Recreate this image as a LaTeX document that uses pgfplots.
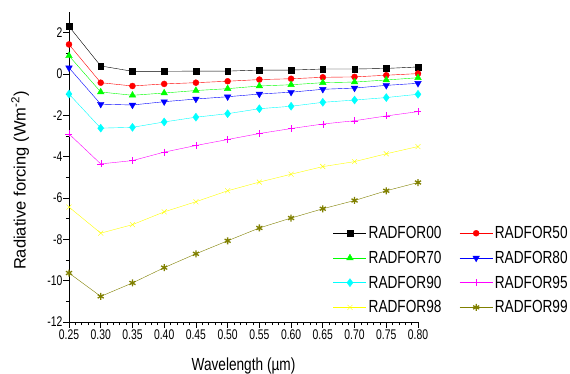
\documentclass[border=0pt]{standalone}
\usepackage{fontspec}
\setmainfont{Liberation Sans}
\newfontfamily\nfont{Liberation Sans}[FakeStretch=0.78]
\newfontfamily\tfont{Liberation Sans}[FakeStretch=0.74]
\usepackage{pgfplots}
\pgfplotsset{compat=1.18}
\definecolor{olv}{RGB}{128,128,0}
\definecolor{grn}{RGB}{0,255,0}
\definecolor{ylw}{RGB}{255,255,0}
\definecolor{cyn}{RGB}{0,255,255}
\definecolor{mgt}{RGB}{255,0,255}
\definecolor{blu}{RGB}{0,0,255}
\definecolor{rd}{RGB}{255,0,0}
\begin{document}
\begin{tikzpicture}
\useasboundingbox (-69pt,-51pt) rectangle (501pt,322pt);
\begin{axis}[
  at={(0pt,0pt)}, anchor=south west,
  scale only axis, width=349pt, height=310pt,
  xmin=0.25, xmax=0.80, ymin=-12, ymax=3,
  axis x line*=bottom, axis y line*=left,
  axis line style={line width=0.8pt},
  xtick={0.25,0.30,...,0.81}, minor x tick num=4,
  ytick={-12,-10,...,2}, minor y tick num=1,
  tick align=outside,
  major tick length=5.5pt, minor tick length=3pt,
  tick style={line width=0.7pt, black},
  /pgf/number format/assume math mode=true,
  xticklabel style={inner sep=2pt, /pgf/number format/.cd, fixed, fixed zerofill, precision=2},
  ticklabel style={font=\tfont\fontsize{14}{16}\selectfont},
  yticklabel style={inner sep=1pt},
  xlabel={\nfont Wavelength (µm)}, ylabel={Radiative forcing (Wm\textsuperscript{-2})},
  xlabel style={font=\fontsize{17.5}{19}\selectfont, at={(axis description cs:0.5,-0.142)}, anchor=center},
  ylabel style={font=\fontsize{16.5}{19}\selectfont, at={(axis description cs:-0.140,0.456)}, anchor=center},
  every plot/.append style={line width=0.7pt},
  every mark/.append style={xscale=0.85},
  legend columns=2,
  legend image code/.code={\draw[mark repeat=2,mark phase=2,#1] plot coordinates {(0pt,0pt)(16.5pt,0pt)(33pt,0pt)};},
  legend style={draw=none, fill=none, at={(rel axis cs:0.748,0.322)}, anchor=north west,
    font=\nfont\fontsize{17.5}{19}\selectfont, row sep=7pt,
    nodes={inner sep=2pt},
    /tikz/every even column/.append style={column sep=16pt}},
  legend cell align=left,
]
\addplot[black, mark=square*, mark size=2.8pt] coordinates {(0.25,2.3)(0.30,0.39)(0.35,0.13)(0.40,0.13)(0.45,0.14)(0.50,0.14)(0.55,0.19)(0.60,0.19)(0.65,0.24)(0.70,0.24)(0.75,0.27)(0.80,0.34)};
\addlegendentry{RADFOR00}
\addplot[rd, mark=*, mark size=3pt] coordinates {(0.25,1.43)(0.30,-0.42)(0.35,-0.58)(0.40,-0.48)(0.45,-0.42)(0.50,-0.35)(0.55,-0.27)(0.60,-0.23)(0.65,-0.16)(0.70,-0.14)(0.75,-0.06)(0.80,0.02)};
\addlegendentry{RADFOR50}
\addplot[grn, mark=triangle*, mark size=3.8pt] coordinates {(0.25,0.88)(0.30,-0.87)(0.35,-1.03)(0.40,-0.92)(0.45,-0.8)(0.50,-0.71)(0.55,-0.58)(0.60,-0.52)(0.65,-0.42)(0.70,-0.39)(0.75,-0.29)(0.80,-0.18)};
\addlegendentry{RADFOR70}
\addplot[blu, mark=triangle*, mark size=3.8pt, mark options={rotate=180}] coordinates {(0.25,0.3)(0.30,-1.46)(0.35,-1.5)(0.40,-1.34)(0.45,-1.21)(0.50,-1.1)(0.55,-0.97)(0.60,-0.88)(0.65,-0.74)(0.70,-0.68)(0.75,-0.55)(0.80,-0.45)};
\addlegendentry{RADFOR80}
\addplot[cyn, mark=diamond*, mark size=4pt] coordinates {(0.25,-0.97)(0.30,-2.62)(0.35,-2.58)(0.40,-2.32)(0.45,-2.09)(0.50,-1.92)(0.55,-1.68)(0.60,-1.56)(0.65,-1.37)(0.70,-1.26)(0.75,-1.14)(0.80,-0.98)};
\addlegendentry{RADFOR90}
\addplot[mgt, mark=+, mark size=3.5pt] coordinates {(0.25,-2.9)(0.30,-4.35)(0.35,-4.19)(0.40,-3.78)(0.45,-3.46)(0.50,-3.17)(0.55,-2.88)(0.60,-2.64)(0.65,-2.42)(0.70,-2.26)(0.75,-2.03)(0.80,-1.82)};
\addlegendentry{RADFOR95}
\addplot[ylw, mark=x, mark size=3.5pt] coordinates {(0.25,-6.44)(0.30,-7.7)(0.35,-7.29)(0.40,-6.67)(0.45,-6.18)(0.50,-5.65)(0.55,-5.23)(0.60,-4.85)(0.65,-4.48)(0.70,-4.24)(0.75,-3.86)(0.80,-3.51)};
\addlegendentry{RADFOR98}
\addplot[olv, mark=asterisk, mark size=3.5pt, mark options={line width=1.3pt}] coordinates {(0.25,-9.63)(0.30,-10.76)(0.35,-10.11)(0.40,-9.37)(0.45,-8.7)(0.50,-8.07)(0.55,-7.45)(0.60,-6.97)(0.65,-6.52)(0.70,-6.12)(0.75,-5.65)(0.80,-5.25)};
\addlegendentry{RADFOR99}
\end{axis}
\end{tikzpicture}
\end{document}
